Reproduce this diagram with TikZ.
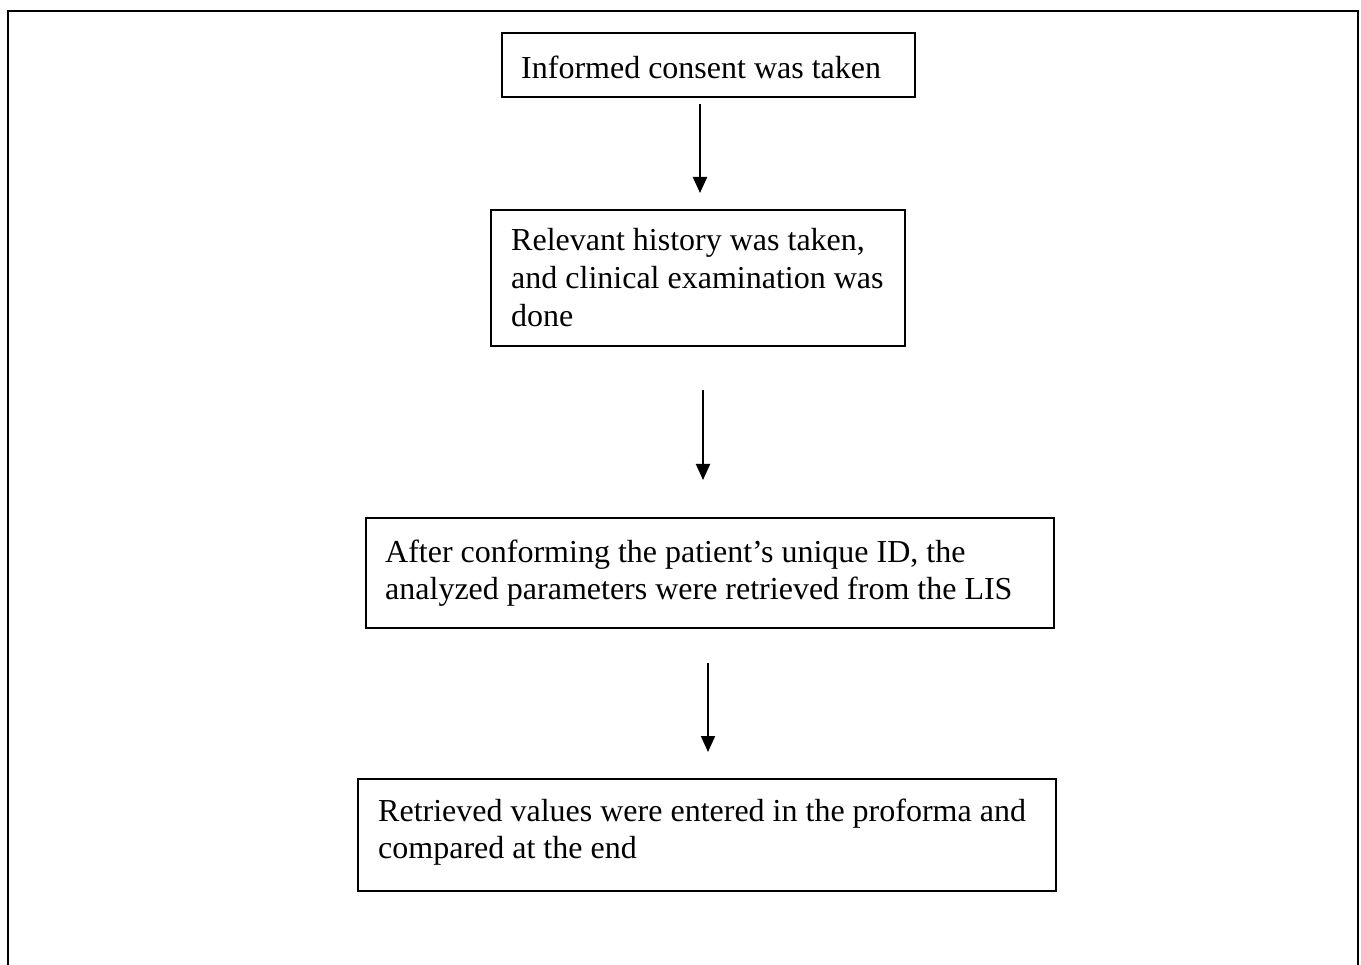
\documentclass[tikz,border=0pt]{standalone}
\usepackage{fontspec}
\setmainfont{Liberation Serif}
\usetikzlibrary{arrows.meta}

\tikzset{
  stepbox/.style={draw=black, line width=2pt, rectangle, inner sep=0pt},
  steptext/.style={anchor=north west, inner sep=0pt, align=left,
    font=\fontsize{32}{38}\selectfont},
  tighttext/.style={steptext, font=\fontsize{32}{37}\selectfont},
  flowarrow/.style={line width=2pt, -{Triangle[width=14pt,length=16pt]}}
}

\begin{document}
\begin{tikzpicture}[x=1pt, y=-1pt]
  \useasboundingbox (0,0) rectangle (1361,965);

  % outer frame, open at the bottom
  \draw[line width=2.5pt] (8,965) -- (8,11) -- (1358,11) -- (1358,965);

  % step boxes
  \node[stepbox, minimum width=413pt, minimum height=64pt] (b1) at (708,65) {};
  \node[stepbox, minimum width=414pt, minimum height=136pt] (b2) at (698,278) {};
  \node[stepbox, minimum width=688pt, minimum height=110pt] (b3) at (710,573) {};
  \node[stepbox, minimum width=698pt, minimum height=112pt] (b4) at (707,835) {};

  % step texts
  \node[steptext] (t1) at (521,56) {Informed consent was taken};
  \node[steptext] (t2) at (511,228) {Relevant history was taken,\\and clinical examination was\\done};
  \node[tighttext] (t3) at (385,540) {After conforming the patient’s unique ID, the\\analyzed parameters were retrieved from the LIS};
  \node[tighttext] (t4) at (378,799) {Retrieved values were entered in the proforma and\\compared at the end};

  % arrows between the steps
  \coordinate (a1s) at (700,104);  \coordinate (a1e) at (700,193);
  \coordinate (a2s) at (703,390);  \coordinate (a2e) at (703,480);
  \coordinate (a3s) at (708,663);  \coordinate (a3e) at (708,752);
  \draw[flowarrow] (a1s) -- (a1e);
  \draw[flowarrow] (a2s) -- (a2e);
  \draw[flowarrow] (a3s) -- (a3e);
\end{tikzpicture}
\end{document}
